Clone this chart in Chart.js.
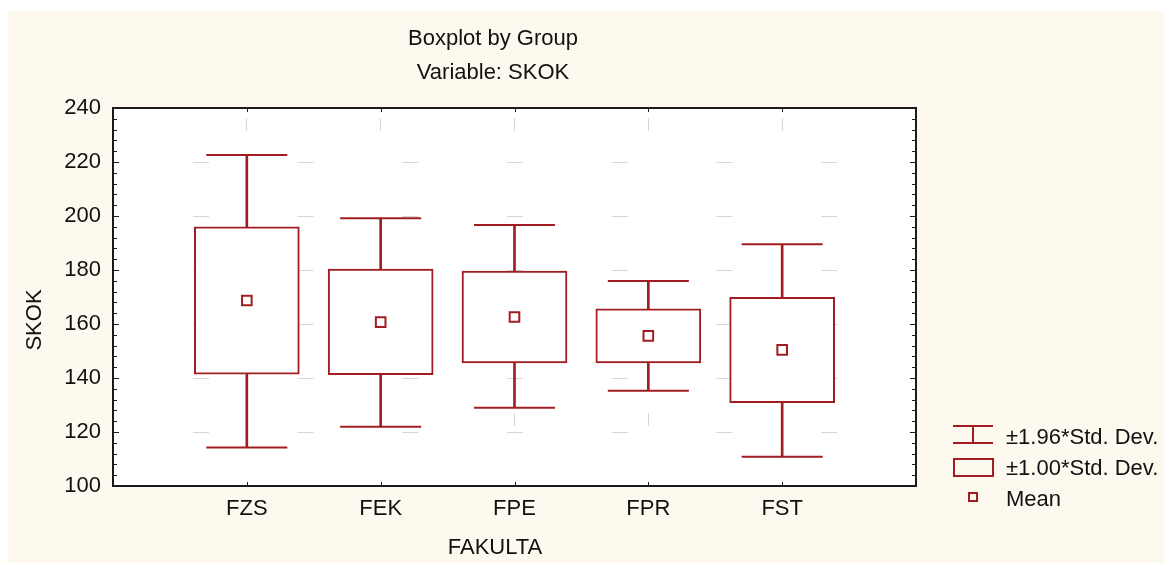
<!DOCTYPE html>
<html lang="en">
<head>
<meta charset="UTF-8">
<title>Boxplot by Group</title>
<script src="https://cdn.jsdelivr.net/npm/chart.js"></script>
<style>
  html, body { margin: 0; padding: 0; background: #fff; overflow: hidden; }
  .wrap { position: relative; width: 1166px; height: 563px; }
</style>
</head>
<body>
<div class="wrap"><canvas id="boxChart"></canvas></div>
<script>
// --- Data ---
const categories = ['FZS', 'FEK', 'FPE', 'FPR', 'FST'];
const means = [168.7, 160.7, 162.6, 155.6, 150.4];
const boxLow = [141.4, 141.2, 145.6, 145.6, 130.9];        // mean - 1.00*SD
const boxHigh = [196.0, 180.3, 179.6, 165.6, 169.9];       // mean + 1.00*SD
const whiskerLow = [114.3, 121.9, 129.0, 135.3, 110.8];    // mean - 1.96*SD
const whiskerHigh = [222.6, 199.2, 196.7, 175.9, 189.5];   // mean + 1.96*SD
const yTicks = [100, 120, 140, 160, 180, 200, 220, 240];
const legendLabels = ['\u00b11.96*Std. Dev.', '\u00b11.00*Std. Dev.', 'Mean'];

const red = '#a11d22';
const font = '"Liberation Sans", Arial, sans-serif';

const pts = vals => vals.map((v, i) => ({ x: i + 1, y: v }));
const ranges = (lo, hi) => lo.map((v, i) => ({ x: i + 1, y: [v, hi[i]] }));

// background, frame, inward ticks, texts and legend
const decor = {
    id: 'decor',
    beforeDraw(chart) {
        const { ctx, chartArea: a, width, height } = chart;
        ctx.save();
        ctx.fillStyle = '#fff';
        ctx.fillRect(0, 0, width, height);
        ctx.fillStyle = '#fdf9ee';
        ctx.fillRect(8, 11, width - 10, height - 11);
        ctx.fillStyle = '#fff';
        ctx.fillRect(a.left, a.top, a.right - a.left, a.bottom - a.top);
        ctx.restore();
    },
    afterDraw(chart) {
        const { ctx, chartArea: a, scales } = chart;
        const ys = scales.y, xs = scales.x;
        ctx.save();
        ctx.strokeStyle = '#1a1a1a';
        ctx.lineWidth = 2;
        ctx.strokeRect(a.left, a.top, a.right - a.left, a.bottom - a.top);

        ctx.lineWidth = 1;
        ctx.beginPath();
        for (let v = yTicks[0]; v <= yTicks[yTicks.length - 1]; v += 4) {
            const y = Math.round(ys.getPixelForValue(v)) + 0.5;
            const len = v % 20 === 0 ? 6 : 4;
            ctx.moveTo(a.left, y); ctx.lineTo(a.left + len, y);
            ctx.moveTo(a.right, y); ctx.lineTo(a.right - len, y);
        }
        categories.forEach((c, i) => {
            const x = Math.round(xs.getPixelForValue(i + 1)) + 0.5;
            ctx.moveTo(x, a.top); ctx.lineTo(x, a.top + 4);
            ctx.moveTo(x, a.bottom); ctx.lineTo(x, a.bottom - 4);
        });
        ctx.stroke();

        // titles
        ctx.fillStyle = '#111';
        ctx.font = '22px ' + font;
        ctx.textAlign = 'center';
        ctx.textBaseline = 'alphabetic';
        ctx.fillText('Boxplot by Group', 493, 45);
        ctx.fillText('Variable: SKOK', 493, 79);
        ctx.fillText('FAKULTA', 495, 554);
        ctx.save();
        ctx.translate(41, 320);
        ctx.rotate(-Math.PI / 2);
        ctx.fillText('SKOK', 0, 0);
        ctx.restore();

        // legend
        ctx.strokeStyle = red;
        ctx.lineWidth = 2;
        ctx.beginPath();
        ctx.moveTo(953, 426); ctx.lineTo(993, 426);
        ctx.moveTo(953, 443); ctx.lineTo(993, 443);
        ctx.moveTo(973, 426); ctx.lineTo(973, 443);
        ctx.stroke();
        ctx.strokeRect(954, 459, 39, 17);
        ctx.strokeRect(969, 493, 8, 8);
        ctx.textAlign = 'left';
        ctx.fillText(legendLabels[0], 1006, 444);
        ctx.fillText(legendLabels[1], 1006, 475);
        ctx.fillText(legendLabels[2], 1006, 506);
        ctx.restore();
    }
};

// first dataset is drawn on top
new Chart(document.getElementById('boxChart'), {
    type: 'bar',
    data: {
        datasets: [
            { type: 'scatter', data: pts(means), pointStyle: 'rect', pointRadius: 6.8, backgroundColor: '#fff', borderColor: red, borderWidth: 2 },
            { type: 'scatter', data: pts(whiskerHigh), pointStyle: 'line', pointRadius: 40.5, borderColor: red, borderWidth: 2 },
            { type: 'scatter', data: pts(whiskerLow), pointStyle: 'line', pointRadius: 40.5, borderColor: red, borderWidth: 2 },
            { type: 'bar', data: ranges(boxLow, boxHigh), backgroundColor: '#fff', borderColor: red, borderWidth: 2, borderSkipped: false, barThickness: 105, grouped: false },
            { type: 'bar', data: ranges(boxHigh, whiskerHigh), backgroundColor: red, borderWidth: 0, barThickness: 2, grouped: false },
            { type: 'bar', data: ranges(whiskerLow, boxLow), backgroundColor: red, borderWidth: 0, barThickness: 2, grouped: false }
        ]
    },
    options: {
        responsive: true,
        maintainAspectRatio: false,
        animation: false,
        events: [],
        layout: { padding: { left: 0, top: 108, right: 250, bottom: 0 } },
        plugins: { legend: { display: false }, tooltip: { enabled: false }, title: { display: false } },
        scales: {
            x: {
                type: 'linear',
                offset: false,
                min: 0,
                max: categories.length + 1,
                afterFit: s => { s.height = 77; },
                afterBuildTicks: s => { s.ticks = categories.map((c, i) => ({ value: i + 1 })); },
                ticks: {
                    autoSkip: false, maxRotation: 0, padding: 10, color: '#111',
                    font: { size: 22, family: font },
                    callback: v => categories[v - 1] || ''
                },
                grid: { offset: false, color: '#d6d6d6', lineWidth: 1, drawTicks: false },
                border: { display: true, color: '#1a1a1a', width: 2, dash: [13, 282], dashOffset: 285 }
            },
            y: {
                min: yTicks[0],
                max: yTicks[yTicks.length - 1],
                afterFit: s => { s.width = 113; },
                afterBuildTicks: s => { s.ticks = yTicks.map(v => ({ value: v })); },
                ticks: { padding: 12, color: '#111', font: { size: 22, family: font } },
                grid: { color: '#d6d6d6', lineWidth: 1, drawTicks: false },
                border: { display: true, color: '#1a1a1a', width: 2, dash: [16, 88.7], dashOffset: 25.7 }
            }
        }
    },
    plugins: [decor]
});
</script>
</body>
</html>
